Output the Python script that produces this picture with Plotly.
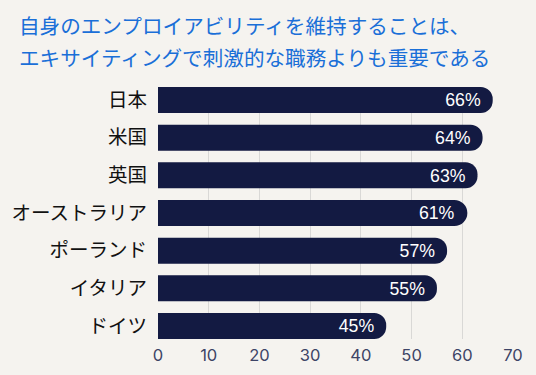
import plotly.graph_objects as go

countries = ["日本", "米国", "英国", "オーストラリア", "ポーランド", "イタリア", "ドイツ"]
values = [66, 64, 63, 61, 57, 55, 45]
x_ticks = [0, 10, 20, 30, 40, 50, 60, 70]
title_lines = ["自身のエンプロイアビリティを維持することは、",
               "エキサイティングで刺激的な職務よりも重要である"]

bg = "#f5f3ef"
bar_color = "#131a42"

W, H = 536, 375
L, R, T, B = 158, 23, 87, 36
pw, ph = W - L - R, H - T - B

fig = go.Figure(go.Bar(
    x=values,
    y=countries,
    orientation="h",
    marker=dict(color=bar_color, line=dict(width=0)),
    text=[f"{v}%" for v in values],
    textposition="inside",
    insidetextanchor="end",
    constraintext="none",
    textfont=dict(color="white", size=19.5, family="Liberation Sans, Arial, sans-serif"),
    width=0.69,
    cliponaxis=False,
    hoverinfo="skip",
))

annotations = []
for i, line in enumerate(title_lines):
    ypix = 25 + 32 * i
    annotations.append(dict(
        text=line, showarrow=False,
        xref="paper", yref="paper",
        x=(17 - L) / pw, y=(H - B - ypix) / ph,
        xanchor="left", yanchor="middle",
        font=dict(color="#1a6fd8", size=20.6, family="Noto Sans CJK JP, sans-serif"),
    ))

fig.update_layout(
    width=W, height=H,
    paper_bgcolor=bg, plot_bgcolor=bg,
    margin=dict(l=L, r=R, t=T, b=B, autoexpand=False),
    barcornerradius=13,
    showlegend=False,
    annotations=annotations,
)

fig.update_xaxes(
    range=[0, 70],
    tickvals=x_ticks,
    ticktext=[str(t) for t in x_ticks],
    showgrid=True, gridcolor="#d9d8d6", gridwidth=1.2,
    zeroline=False, showline=False,
    tickfont=dict(color="#3d4466", size=16.5, family="Inter, Liberation Sans, sans-serif"),
    ticks="", automargin=False, ticklabelstandoff=4,
)
fig.update_yaxes(
    categoryorder="array", categoryarray=countries,
    range=[6.345, -0.345],
    tickfont=dict(color="#111111", size=19.5, family="Noto Sans CJK JP, sans-serif"),
    ticks="", showgrid=False, ticklabelstandoff=10, automargin=False,
)

fig.write_html(
    "out.html",
    config={"displayModeBar": False},
    post_script="document.body.style.margin='0';document.body.style.background='#f5f3ef';",
)
